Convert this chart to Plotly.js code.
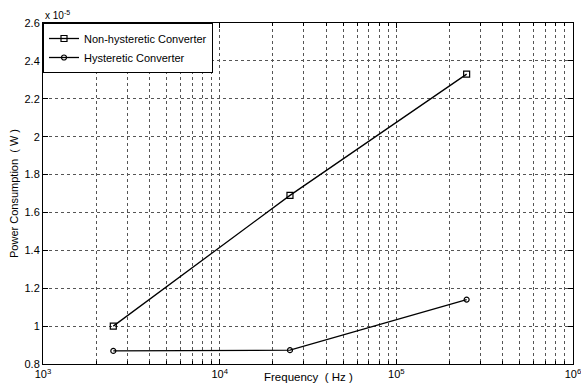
<!DOCTYPE html>
<html><head><meta charset="utf-8">
<script src="https://cdn.plot.ly/plotly-3.0.1.min.js"></script>
<style>html,body{margin:0;padding:0;background:#fff}#chart{width:581px;height:387px}</style>
</head><body><div id="chart"></div>
<script>
// Frequency (Hz)
const frequency = [2500, 25000, 250000];
// Power consumption, in units of 1e-5 W
const nonHysteretic = [1.00, 1.69, 2.33];
const hysteretic = [0.869, 0.873, 1.14];
const seriesNames = ["Non-hysteretic Converter", "Hysteretic Converter"];
const xMajorTicks = [1e3, 1e4, 1e5, 1e6];
const xTickLabels = ["10<sup>3</sup>", "10<sup>4</sup>", "10<sup>5</sup>", "10<sup>6</sup>"];
const yTicks = [0.8, 1, 1.2, 1.4, 1.6, 1.8, 2, 2.2, 2.4, 2.6];
const yTickLabels = ["0.8", "1", "1.2", "1.4", "1.6", "1.8", "2", "2.2", "2.4", "2.6"];

const xMinor = [];
for (let d = 3; d < 6; d++) for (let m = 2; m <= 9; m++) xMinor.push(m * Math.pow(10, d));

const font = {family: "Liberation Sans, Arial, sans-serif", size: 11, color: "#000"};

const traces = [
  {x: frequency, y: nonHysteretic, name: seriesNames[0], mode: "lines+markers",
   line: {color: "#000", width: 1.3},
   marker: {symbol: "square-open", size: 6, color: "#000", line: {width: 1.2}}},
  {x: frequency, y: hysteretic, name: seriesNames[1], mode: "lines+markers",
   line: {color: "#000", width: 1.3},
   marker: {symbol: "circle-open", size: 5, color: "#000", line: {width: 1.2}}}
];

const layout = {
  width: 581, height: 387,
  margin: {l: 43, r: 8, t: 23, b: 23},
  paper_bgcolor: "#fff", plot_bgcolor: "#fff",
  font: font,
  showlegend: true,
  legend: {x: 0, y: 1, xanchor: "left", yanchor: "top", bgcolor: "#fff",
           bordercolor: "#000", borderwidth: 1, font: font, tracegroupgap: 0,
           itemwidth: 30},
  xaxis: {
    type: "log", range: [3, 6],
    tickvals: xMajorTicks, ticktext: xTickLabels,
    ticks: "inside", ticklen: 5, tickcolor: "#000",
    ticklabeloverflow: "allow",
    showline: true, linecolor: "#000", linewidth: 1, mirror: "ticks",
    showgrid: true, gridcolor: "#555", griddash: "dot", gridwidth: 1,
    zeroline: false,
    minor: {tickvals: xMinor, ticks: "inside", ticklen: 3, tickcolor: "#000",
            showgrid: true, gridcolor: "#555", griddash: "dot", gridwidth: 1},
    title: {text: "", font: font},
    tickfont: font
  },
  yaxis: {
    range: [0.8, 2.6],
    tickvals: yTicks, ticktext: yTickLabels,
    ticks: "inside", ticklen: 5, tickcolor: "#000",
    showline: true, linecolor: "#000", linewidth: 1, mirror: "ticks",
    showgrid: true, gridcolor: "#555", griddash: "dot", gridwidth: 1,
    zeroline: false,
    title: {text: "Power Consumption  ( W )", font: font, standoff: 3},
    tickfont: font
  },
  annotations: [{
    text: "x 10<sup>-5</sup>", xref: "paper", yref: "paper", x: 0, y: 1,
    xanchor: "left", yanchor: "bottom", showarrow: false,
    font: {family: font.family, size: 10, color: "#000"}
  }, {
    text: "Frequency  ( Hz )", xref: "paper", yref: "paper", x: 0.5, y: 0,
    xanchor: "center", yanchor: "top", yshift: -5, showarrow: false,
    font: {family: font.family, size: 11.5, color: "#000"}
  }]
};

Plotly.newPlot("chart", traces, layout, {displayModeBar: false, staticPlot: true});
</script></body></html>
